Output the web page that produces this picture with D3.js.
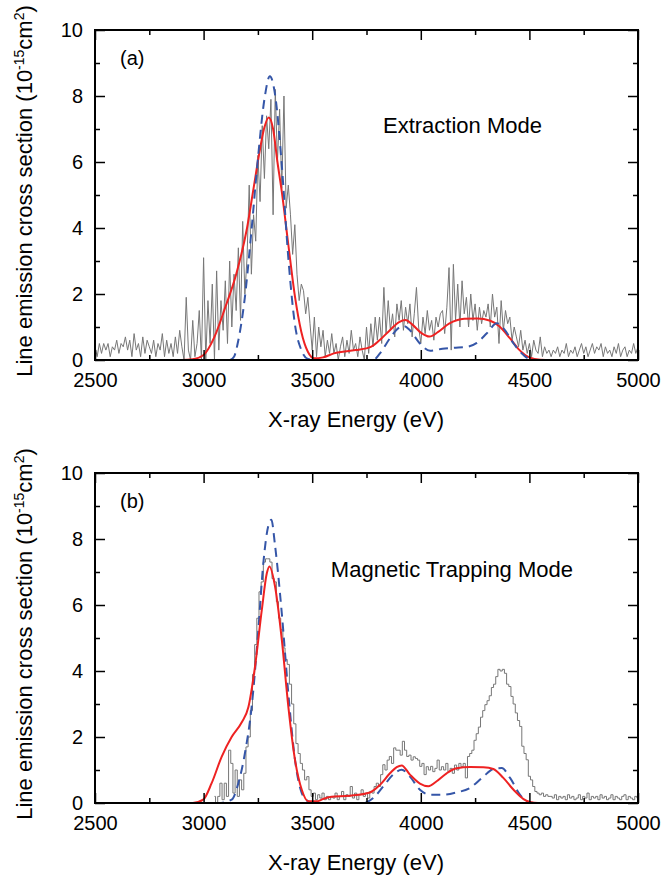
<!DOCTYPE html>
<html>
<head>
<meta charset="utf-8">
<script src="https://cdn.jsdelivr.net/npm/d3@7"></script>
<style>
  body { margin: 0; background: #fff; }
  svg { display: block; }
</style>
</head>
<body>
<div id="chart"></div>
<script>
// Measured spectra, 10 eV channels
const energyA = d3.range(2500, 5001, 10);
const countsA = [
  0.4, 0.1, 0.5, 0.2, 0.5, 0.3, 0.5, 0.1, 0.4, 0.3,
  0.6, 0.2, 0.5, 0.4, 0.7, 0.3, 0.6, 0.1, 0.8, 0.3,
  0.5, 0.1, 0.7, 0.2, 0.6, 0.4, 0.2, 0.6, 0.1, 0.5,
  0.3, 0.8, 0.1, 0.6, 0.2, 0.5, 0.1, 0.7, 0.2, 0.9,
  0.4, 0.0, 1.9, 0.3, 0.0, 1.2, 0.1, 0.5, 1.5, 0.0,
  3.1, 0.0, 1.8, 0.5, 2.3, 0.0, 2.7, 0.3, 1.8, 0.9,
  2.4, 0.5, 3.0, 1.0, 2.6, 1.5, 3.4, 1.2, 4.2, 2.0,
  3.1, 5.3, 2.6, 4.4, 3.6, 6.2, 4.8, 7.1, 5.5, 7.4,
  6.4, 7.9, 4.4, 8.2, 6.0, 7.6, 5.2, 8.0, 4.6, 5.3,
  4.4, 3.2, 4.1, 2.6, 1.8, 2.3, 2.1, 1.4, 1.9, 1.1,
  0.3, 1.3, 0.1, 1.0, 0.4, 0.9, 0.1, 0.6, 0.2, 0.8,
  0.2, 0.5, 0.0, 0.4, 0.7, 0.1, 0.6, 0.2, 0.9, 0.3,
  0.5, 0.1, 0.7, 0.3, 0.0, 1.0, 0.2, 1.1, 0.4, 1.3,
  0.6, 1.3, 0.5, 2.2, 0.8, 1.8, 0.9, 1.4, 0.7, 1.7,
  1.2, 1.8, 0.9, 1.6, 1.1, 1.7, 0.7, 1.4, 2.2, 1.0,
  0.5, 1.3, 0.8, 1.5, 0.9, 1.2, 0.6, 1.3, 1.0, 1.4,
  1.5, 0.8, 1.6, 2.8, 0.3, 2.9, 1.2, 2.3, 1.0, 2.4,
  1.4, 1.9, 1.0, 2.0, 1.2, 1.7, 0.9, 1.6, 1.1, 1.5,
  1.3, 1.7, 1.0, 2.0, 1.3, 1.6, 0.5, 1.8, 0.9, 1.5,
  1.1, 1.3, 0.6, 1.0, 0.7, 0.4, 0.9, 0.3, 0.6, 0.2,
  0.5, 0.1, 0.6, 0.3, 0.2, 0.7, 0.1, 0.4, 0.2, 0.3,
  0.1, 0.3, 0.2, 0.4, 0.1, 0.3, 0.2, 0.5, 0.1, 0.3,
  0.2, 0.4, 0.1, 0.3, 0.5, 0.2, 0.4, 0.1, 0.3, 0.5,
  0.2, 0.4, 0.3, 0.5, 0.1, 0.4, 0.2, 0.3, 0.1, 0.4,
  0.2, 0.5, 0.1, 0.3, 0.4, 0.1, 0.3, 0.2, 0.5, 0.2,
  0.4
];

const energyB = d3.range(3050, 5001, 10);
const countsB = [
  0.2, 0.0, 0.2, 0.6, 0.1,
  0.6, 0.2, 1.6, 1.2, 0.3, 1.0, 0.2, 0.7, 0.4, 0.9,
  1.7, 2.0, 2.8, 3.9, 4.8, 5.6, 6.4, 6.7, 7.3, 7.4,
  7.4, 7.3, 6.8, 6.7, 6.1, 5.6, 5.25, 4.7, 4.35, 4.2,
  3.6, 3.0, 2.4, 1.8, 1.5, 1.2, 1.0, 0.7, 0.8, 0.4,
  0.2, 0.3, 0.1, 0.25, 0.15, 0.3, 0.1, 0.2, 0.1, 0.2,
  0.15, 0.3, 0.1, 0.2, 0.35, 0.1, 0.25, 0.2, 0.5, 0.15,
  0.3, 0.1, 0.25, 0.4, 0.2, 0.3, 0.15, 0.35, 0.3, 0.5,
  0.6, 0.5, 0.86, 1.16, 1.0, 1.3, 1.41, 1.2, 1.67, 1.6,
  1.6, 1.45, 1.87, 1.6, 1.41, 1.45, 1.3, 1.4, 1.35, 1.3,
  1.11, 1.2, 0.86, 1.1, 1.0, 1.11, 0.95, 1.05, 1.3, 1.0,
  1.1, 1.0, 1.2, 0.95, 1.05, 0.9, 1.15, 1.0, 1.2, 1.1,
  1.2, 0.76, 1.41, 1.5, 1.6, 1.9, 2.1, 2.3, 2.6, 2.8,
  2.98, 3.1, 3.25, 3.5, 3.6, 3.83, 4.05, 4.0, 4.05, 3.93,
  3.6, 3.53, 3.23, 3.0, 2.73, 2.5, 2.32, 1.72, 1.5, 1.31,
  0.81, 0.7, 0.5, 0.35, 0.3, 0.25, 0.3, 0.2, 0.25, 0.2,
  0.2, 0.15, 0.25, 0.1, 0.2, 0.15, 0.2, 0.1, 0.25, 0.15,
  0.2, 0.1, 0.15, 0.25, 0.1, 0.2, 0.15, 0.3, 0.1, 0.2,
  0.15, 0.2, 0.1, 0.25, 0.15, 0.2, 0.1, 0.15, 0.25, 0.1,
  0.2, 0.15, 0.1, 0.2, 0.25, 0.1, 0.2, 0.15, 0.1, 0.2,
  0.15
];

// Model curves (red solid / blue dashed)
const redEnergyA = [2500, 2900, 2950, 3000, 3050, 3100, 3150, 3200, 3230, 3260, 3280, 3300, 3320, 3340, 3360, 3390, 3420, 3450, 3480, 3510, 3550, 3600, 3700, 3770, 3810, 3860, 3900, 3930, 3960, 4000, 4040, 4080, 4130, 4200, 4260, 4320, 4360, 4410, 4450, 4500, 4550, 4600, 5000];
const redValueA  = [0, 0, 0.02, 0.15, 0.7, 1.6, 2.6, 4.0, 5.2, 6.4, 7.05, 7.35, 7.0, 6.0, 5.1, 3.5, 1.95, 0.85, 0.25, 0.05, 0.08, 0.2, 0.3, 0.4, 0.6, 0.92, 1.15, 1.21, 1.08, 0.83, 0.71, 0.85, 1.1, 1.25, 1.26, 1.19, 1.03, 0.66, 0.33, 0.08, 0.01, 0, 0];

const blueEnergyA = [2500, 3120, 3140, 3160, 3190, 3220, 3250, 3280, 3305, 3330, 3360, 3390, 3420, 3450, 3480, 3510, 3780, 3812, 3858, 3900, 3922, 3950, 3996, 4043, 4100, 4150, 4212, 4258, 4304, 4350, 4381, 4427, 4473, 4500, 4530, 5000];
const blueValueA  = [0, 0, 0.1, 0.6, 1.9, 3.9, 6.1, 7.9, 8.6, 8.0, 5.9, 3.1, 1.1, 0.3, 0.03, 0, 0, 0.2, 0.66, 0.98, 1.03, 0.9, 0.5, 0.28, 0.34, 0.37, 0.4, 0.52, 0.81, 1.11, 0.96, 0.5, 0.15, 0.03, 0, 0];

const redEnergyB = [2500, 2950, 2998, 3037, 3083, 3129, 3175, 3206, 3237, 3268, 3291, 3303, 3329, 3360, 3390, 3421, 3452, 3482, 3520, 3550, 3582, 3674, 3766, 3812, 3858, 3889, 3912, 3950, 3996, 4035, 4073, 4119, 4165, 4227, 4288, 4334, 4380, 4427, 4473, 4503, 4540, 5000];
const redValueB  = [0, 0, 0.1, 0.6, 1.4, 2.0, 2.44, 2.9, 4.15, 5.85, 6.96, 7.17, 6.56, 4.95, 2.93, 1.3, 0.4, 0.05, 0.05, 0.12, 0.18, 0.22, 0.32, 0.55, 0.9, 1.09, 1.14, 0.86, 0.59, 0.51, 0.66, 0.9, 1.05, 1.09, 1.08, 1.03, 0.76, 0.4, 0.12, 0.03, 0, 0];

const blueEnergyB = [2500, 3068, 3129, 3160, 3190, 3221, 3252, 3275, 3298, 3312, 3329, 3360, 3390, 3421, 3452, 3482, 3510, 3735, 3781, 3827, 3873, 3912, 3950, 3996, 4043, 4104, 4165, 4227, 4288, 4334, 4373, 4411, 4457, 4488, 4520, 5000];
const blueValueB  = [0, 0, 0.1, 0.6, 1.5, 2.9, 5.25, 7.27, 8.4, 8.58, 7.8, 5.75, 3.33, 1.3, 0.3, 0.05, 0, 0, 0.15, 0.5, 0.86, 1.01, 0.8, 0.4, 0.25, 0.25, 0.32, 0.46, 0.8, 1.03, 1.06, 0.76, 0.25, 0.05, 0, 0];

// Axis ticks
const xMajorTicks = [2500, 3000, 3500, 4000, 4500, 5000];
const xMinorTicks = [2750, 3250, 3750, 4250, 4750];
const yMajorTicks = [0, 2, 4, 6, 8, 10];
const yMinorTicks = [1, 3, 5, 7, 9];

const zip = (xs, ys) => xs.map((x, i) => ({ x, y: ys[i] }));

const panels = [
  {
    id: 'a', top: 30, label: '(a)', mode: 'Extraction Mode', modeX: 383, modeY: 133, modeAnchor: 'start',
    measured: zip(energyA, countsA), step: false,
    red: zip(redEnergyA, redValueA), blue: zip(blueEnergyA, blueValueA), redOnTop: false
  },
  {
    id: 'b', top: 473, label: '(b)', mode: 'Magnetic Trapping Mode', modeX: 573, modeY: 577, modeAnchor: 'end',
    measured: zip(energyB, countsB), step: true,
    red: zip(redEnergyB, redValueB), blue: zip(blueEnergyB, blueValueB), redOnTop: true
  }
];

const width = 661;
const height = 877;
const left = 95;
const right = 638;
const plotH = 330;
const font = '"Liberation Sans", Arial, Helvetica, sans-serif';

const svg = d3.select('#chart')
  .append('svg')
  .attr('width', width)
  .attr('height', height);

const x = d3.scaleLinear().domain([2500, 5000]).range([left, right]);

panels.forEach(p => {
  const bottom = p.top + plotH;
  const y = d3.scaleLinear().domain([0, 10]).range([bottom, p.top]);
  const g = svg.append('g');

  g.append('clipPath')
    .attr('id', 'clip-' + p.id)
    .append('rect')
    .attr('x', left).attr('y', p.top - 2)
    .attr('width', right - left).attr('height', plotH + 2);

  const lines = g.append('g').attr('clip-path', `url(#clip-${p.id})`);

  const line = d3.line().x(d => x(d.x)).y(d => y(d.y));
  const smooth = d3.line().x(d => x(d.x)).y(d => y(d.y)).curve(d3.curveMonotoneX);

  // measured spectrum
  lines.append('path')
    .datum(p.measured)
    .attr('fill', 'none')
    .attr('stroke', '#777')
    .attr('stroke-width', 1)
    .attr('d', p.step ? line.curve(d3.curveStep) : line);

  const drawRed = () => lines.append('path')
    .datum(p.red)
    .attr('fill', 'none')
    .attr('stroke', '#ee2222')
    .attr('stroke-width', 2)
    .attr('d', smooth);

  const drawBlue = () => lines.append('path')
    .datum(p.blue)
    .attr('fill', 'none')
    .attr('stroke', '#3556a8')
    .attr('stroke-width', 2)
    .attr('stroke-dasharray', '9,6')
    .attr('d', smooth);

  if (p.redOnTop) { drawBlue(); drawRed(); } else { drawRed(); drawBlue(); }

  // axes, ticks pointing inward on all four sides
  const styleAxis = sel => {
    sel.select('.domain').remove();
    sel.selectAll('line').attr('stroke', '#000').attr('stroke-width', 1.5);
    sel.selectAll('text')
      .style('font-family', font)
      .style('font-size', '20px')
      .attr('fill', '#000');
  };

  g.append('g')
    .attr('transform', `translate(0,${bottom})`)
    .call(d3.axisBottom(x).tickValues(xMajorTicks).tickSize(-10).tickPadding(13).tickFormat(d3.format('d')))
    .call(styleAxis);
  g.append('g')
    .attr('transform', `translate(0,${bottom})`)
    .call(d3.axisBottom(x).tickValues(xMinorTicks).tickSize(-5).tickFormat(''))
    .call(styleAxis);
  g.append('g')
    .attr('transform', `translate(0,${p.top})`)
    .call(d3.axisTop(x).tickValues(xMajorTicks).tickSize(-10).tickFormat(''))
    .call(styleAxis);
  g.append('g')
    .attr('transform', `translate(0,${p.top})`)
    .call(d3.axisTop(x).tickValues(xMinorTicks).tickSize(-5).tickFormat(''))
    .call(styleAxis);

  g.append('g')
    .attr('transform', `translate(${left},0)`)
    .call(d3.axisLeft(y).tickValues(yMajorTicks).tickSize(-10).tickPadding(12).tickFormat(d3.format('d')))
    .call(styleAxis);
  g.append('g')
    .attr('transform', `translate(${left},0)`)
    .call(d3.axisLeft(y).tickValues(yMinorTicks).tickSize(-5).tickFormat(''))
    .call(styleAxis);
  g.append('g')
    .attr('transform', `translate(${right},0)`)
    .call(d3.axisRight(y).tickValues(yMajorTicks).tickSize(-10).tickFormat(''))
    .call(styleAxis);
  g.append('g')
    .attr('transform', `translate(${right},0)`)
    .call(d3.axisRight(y).tickValues(yMinorTicks).tickSize(-5).tickFormat(''))
    .call(styleAxis);

  // frame
  g.append('rect')
    .attr('x', left).attr('y', p.top)
    .attr('width', right - left).attr('height', plotH)
    .attr('fill', 'none')
    .attr('stroke', '#000')
    .attr('stroke-width', 2);

  // panel letter and mode label
  g.append('text')
    .attr('x', 120).attr('y', p.top + 35)
    .style('font-family', font).style('font-size', '20px')
    .text(p.label);

  g.append('text')
    .attr('x', p.modeX).attr('y', p.modeY)
    .attr('text-anchor', p.modeAnchor)
    .style('font-family', font).style('font-size', '22px')
    .text(p.mode);

  // x axis title
  g.append('text')
    .attr('x', 356).attr('y', bottom + 67)
    .attr('text-anchor', 'middle')
    .style('font-family', font).style('font-size', '22px')
    .text('X-ray Energy (eV)');

  // y axis title with superscripts
  const yt = g.append('text')
    .attr('transform', 'rotate(-90)')
    .attr('x', -(p.top + plotH / 2 - 4))
    .attr('y', 32)
    .attr('text-anchor', 'middle')
    .style('font-family', font).style('font-size', '22px');
  yt.append('tspan').text('Line emission cross section (10');
  yt.append('tspan').attr('dy', -8).style('font-size', '14px').text('-15');
  yt.append('tspan').attr('dy', 8).text('cm');
  yt.append('tspan').attr('dy', -8).style('font-size', '14px').text('2');
  yt.append('tspan').attr('dy', 8).text(')');
});
</script>
</body>
</html>
